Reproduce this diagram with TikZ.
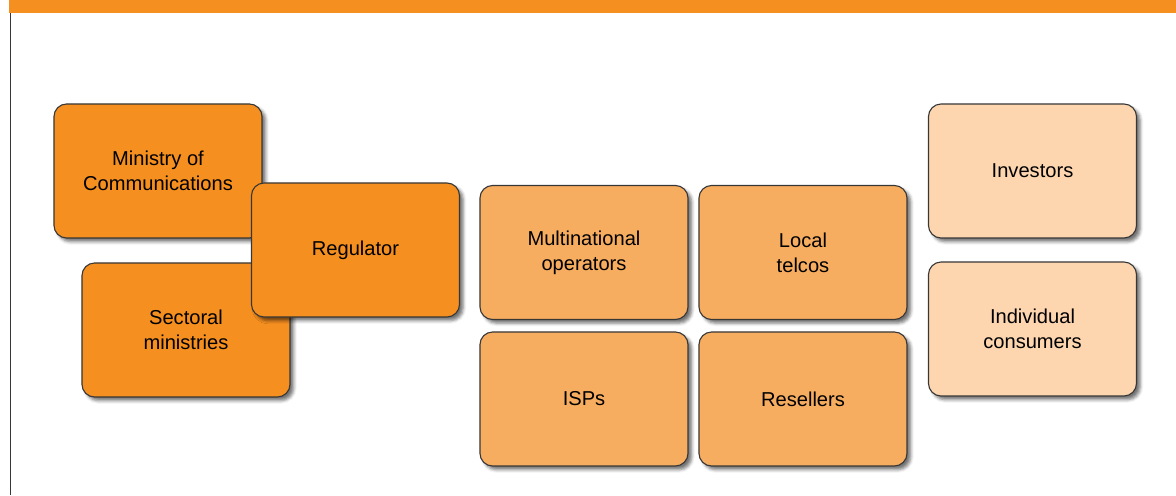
\documentclass[tikz,border=0pt]{standalone}
\usepackage{fontspec}
\setmainfont{Liberation Sans}
\usepackage{xcolor}
\usetikzlibrary{shadows.blur}

\definecolor{govorange}{RGB}{245,143,32}
\definecolor{marketorange}{RGB}{247,173,96}
\definecolor{userorange}{RGB}{253,214,176}
\definecolor{boxline}{RGB}{55,55,55}

\tikzset{
  actor/.style={draw=boxline, line width=0.8pt, rounded corners=9pt,
    minimum width=5.2cm, minimum height=3.35cm, align=center,
    font=\fontsize{14.3}{17.8}\selectfont,
    blur shadow={shadow xshift=2.6pt, shadow yshift=-2.6pt, shadow blur radius=2.2pt, shadow opacity=55}},
  gov/.style={actor, fill=govorange},
  market/.style={actor, fill=marketorange},
  user/.style={actor, fill=userorange}
}

\begin{document}
\begin{tikzpicture}[x=0.025cm, y=-0.025cm]
\useasboundingbox (0,0) rectangle (1176,495);

% Frame: header bar and left rule
\fill[govorange] (9,0) rectangle (1176,13);
\draw[boxline, line width=1.1pt] (10.5,13) -- (10.5,495);

% Government side
\node[gov] (ministry) at (158,171) {Ministry of\\Communications};
\node[gov] (sectoral) at (186,330) {Sectoral\\ministries};
\node[gov] (regulator) at (355.5,250) {Regulator};

% Operators
\node[market] (multinational) at (584,252.5) {Multinational\\operators};
\node[market] (local) at (803,252.5) {Local\\telcos};
\node[market] (isps) at (584,399) {ISPs};
\node[market] (resellers) at (803,399) {Resellers};

% Investors and users
\node[user] (investors) at (1032.5,171) {Investors};
\node[user] (consumers) at (1032.5,329) {Individual\\consumers};

\end{tikzpicture}
\end{document}
